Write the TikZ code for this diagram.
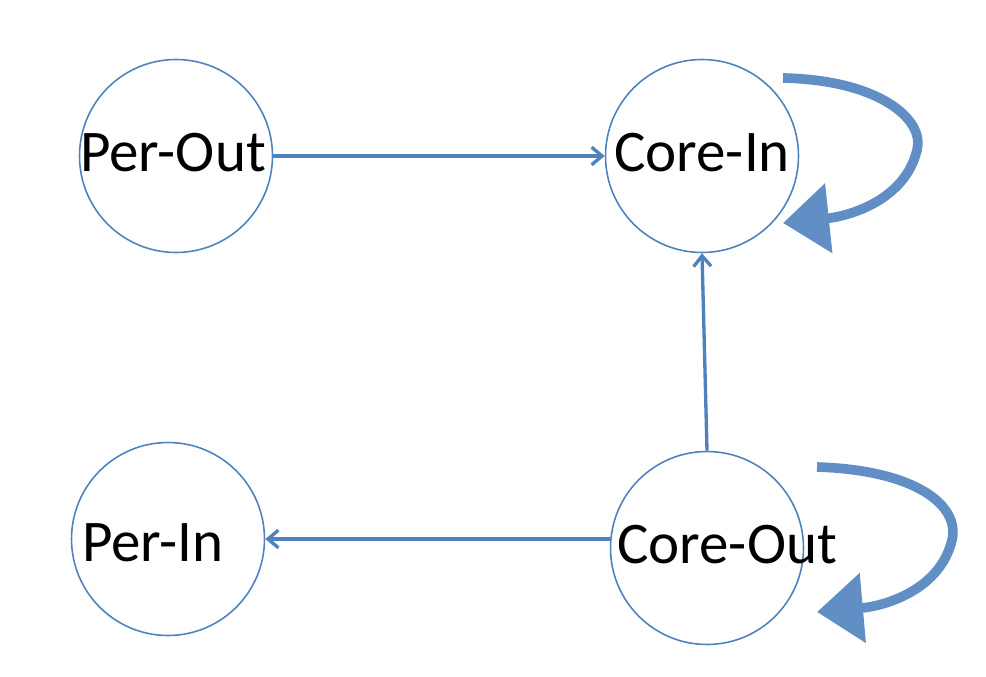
\documentclass[tikz,border=0pt]{standalone}
\usepackage{fontspec}
\setmainfont{Carlito}
\usetikzlibrary{arrows.meta}
\definecolor{officeblue}{RGB}{79,129,189}
\begin{document}
\begin{tikzpicture}[x=0.02cm, y=-0.02cm,
    state/.style={circle, draw=officeblue, line width=0.9pt, minimum size=3.86cm, inner sep=0pt},
    edge/.style={officeblue, line width=1.9pt, -{Straight Barb[length=6pt, width=10pt]}},
    loop/.style={officeblue!90, line width=5.5pt, -{Triangle[length=0.92cm, width=1.36cm]}}]
    \useasboundingbox (0,0) rectangle (986,676);
    \node[state] (po) at (176,156) {}; \node[state] (ci) at (702,156) {};
    \node[state] (pi) at (168,539) {}; \node[state] (co) at (707,548) {};
    \node[font=\fontsize{33.6}{40}\selectfont] at (173,153) {Per-Out};
    \node[font=\fontsize{33.6}{40}\selectfont] at (702,153) {Core-In};
    \node[font=\fontsize{33.6}{40}\selectfont] at (153,543) {Per-In};
    \node[font=\fontsize{33.6}{40}\selectfont] at (727,545) {Core-Out};
    \draw[edge] (po) -- (ci);
    \draw[edge] (co.north) -- (ci.south);
    \draw[edge] (co.west |- pi.east) -- (pi.east);
    % self loops
    \draw[loop] (783,78) .. controls (880,80) and (925,120) .. (917,150)
        .. controls (905,200) and (850,216) .. (783,223);
    \draw[loop] (817,467) .. controls (915,470) and (960,505) .. (952,540)
        .. controls (940,590) and (885,606) .. (817,612);
\end{tikzpicture}
\end{document}
